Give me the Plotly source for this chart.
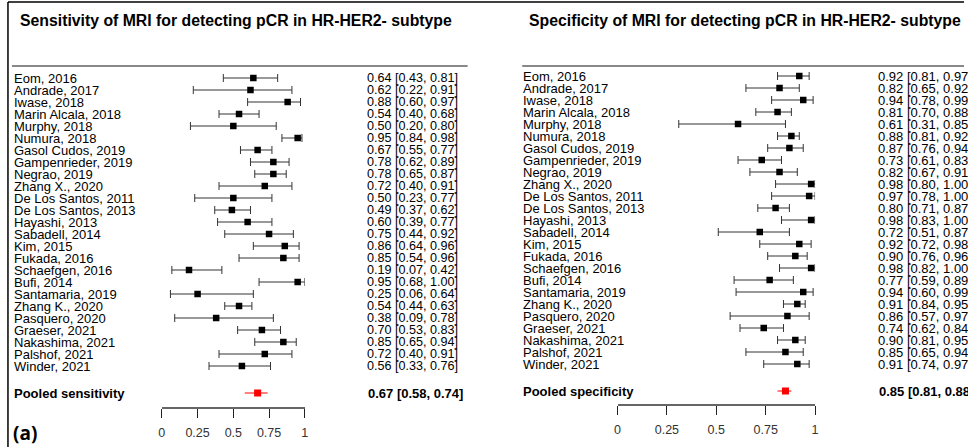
import plotly.graph_objects as go

studies = ["Eom, 2016", "Andrade, 2017", "Iwase, 2018", "Marin Alcala, 2018", "Murphy, 2018",
           "Numura, 2018", "Gasol Cudos, 2019", "Gampenrieder, 2019", "Negrao, 2019", "Zhang X., 2020",
           "De Los Santos, 2011", "De Los Santos, 2013", "Hayashi, 2013", "Sabadell, 2014", "Kim, 2015",
           "Fukada, 2016", "Schaefgen, 2016", "Bufi, 2014", "Santamaria, 2019", "Zhang K., 2020",
           "Pasquero, 2020", "Graeser, 2021", "Nakashima, 2021", "Palshof, 2021", "Winder, 2021"]

sens = [0.64, 0.62, 0.88, 0.54, 0.50, 0.95, 0.67, 0.78, 0.78, 0.72, 0.50, 0.49, 0.60, 0.75, 0.86,
        0.85, 0.19, 0.95, 0.25, 0.54, 0.38, 0.70, 0.85, 0.72, 0.56]
sens_lo = [0.43, 0.22, 0.60, 0.40, 0.20, 0.84, 0.55, 0.62, 0.65, 0.40, 0.23, 0.37, 0.39, 0.44, 0.64,
           0.54, 0.07, 0.68, 0.06, 0.44, 0.09, 0.53, 0.65, 0.40, 0.33]
sens_hi = [0.81, 0.91, 0.97, 0.68, 0.80, 0.98, 0.77, 0.89, 0.87, 0.91, 0.77, 0.62, 0.77, 0.92, 0.96,
           0.96, 0.42, 1.00, 0.64, 0.63, 0.78, 0.83, 0.94, 0.91, 0.76]

spec = [0.92, 0.82, 0.94, 0.81, 0.61, 0.88, 0.87, 0.73, 0.82, 0.98, 0.97, 0.80, 0.98, 0.72, 0.92,
        0.90, 0.98, 0.77, 0.94, 0.91, 0.86, 0.74, 0.90, 0.85, 0.91]
spec_lo = [0.81, 0.65, 0.78, 0.70, 0.31, 0.81, 0.76, 0.61, 0.67, 0.80, 0.78, 0.71, 0.83, 0.51, 0.72,
           0.76, 0.82, 0.59, 0.60, 0.84, 0.57, 0.62, 0.81, 0.65, 0.74]
spec_hi = [0.97, 0.92, 0.99, 0.88, 0.85, 0.92, 0.94, 0.83, 0.91, 1.00, 1.00, 0.87, 1.00, 0.87, 0.98,
           0.96, 1.00, 0.89, 0.99, 0.95, 0.97, 0.84, 0.95, 0.94, 0.97]

pooled_sens = [0.67, 0.58, 0.74]
pooled_spec = [0.85, 0.81, 0.88]

tick_vals = [0, 0.25, 0.5, 0.75, 1]
tick_text = ["0", "0.25", "0.5", "0.75", "1"]

W, H = 968, 447
POOLED_ROW = 26.25
FONT = "Liberation Sans, Arial, sans-serif"
PAD = 4  # annotation inner padding compensation

fig = go.Figure()

def fmt(v, l, u):
    return f"{v:.2f} [{l:.2f}, {u:.2f}]"

rows = list(range(len(studies)))

panels = [
    dict(x="x", y="y", est=sens, lo=sens_lo, hi=sens_hi, pooled=pooled_sens,
         label_x=13, val_x=369, val_size=12.6, pooled_label="Pooled sensitivity"),
    dict(x="x2", y="y2", est=spec, lo=spec_lo, hi=spec_hi, pooled=pooled_spec,
         label_x=526, val_x=883, val_size=13, pooled_label="Pooled specificity"),
]

annotations = []
for p in panels:
    est, lo, hi = p["est"], p["lo"], p["hi"]
    fig.add_trace(go.Scatter(
        x=est, y=rows, xaxis=p["x"], yaxis=p["y"], mode="markers",
        marker=dict(symbol="square", size=6.5, color="black"),
        error_x=dict(type="data", symmetric=False,
                     array=[h - e for h, e in zip(hi, est)],
                     arrayminus=[e - l for e, l in zip(est, lo)],
                     color="#333333", thickness=1, width=4),
        cliponaxis=False, showlegend=False, hoverinfo="skip"))
    pe, pl, ph = p["pooled"]
    fig.add_trace(go.Scatter(
        x=[pe], y=[POOLED_ROW], xaxis=p["x"], yaxis=p["y"], mode="markers",
        marker=dict(symbol="square", size=7, color="#ff0000"),
        error_x=dict(type="data", symmetric=False, array=[ph - pe], arrayminus=[pe - pl],
                     color="#ff0000", thickness=1, width=0),
        cliponaxis=False, showlegend=False, hoverinfo="skip"))
    for i, name in enumerate(studies):
        annotations.append(dict(xref="paper", yref=p["y"], x=(p["label_x"] - PAD) / W, y=i,
                                text=name, showarrow=False, xanchor="left", yanchor="middle",
                                font=dict(family=FONT, size=13, color="black")))
        annotations.append(dict(xref="paper", yref=p["y"], x=(p["val_x"] - PAD) / W, y=i,
                                text=fmt(est[i], lo[i], hi[i]), showarrow=False,
                                xanchor="left", yanchor="middle",
                                font=dict(family=FONT, size=p["val_size"], color="black")))
    annotations.append(dict(xref="paper", yref=p["y"], x=(p["label_x"] - PAD) / W, y=POOLED_ROW,
                            text="<b>" + p["pooled_label"] + "</b>", showarrow=False,
                            xanchor="left", yanchor="middle",
                            font=dict(family=FONT, size=13, color="black")))
    annotations.append(dict(xref="paper", yref=p["y"], x=(p["val_x"] + 1 - PAD) / W, y=POOLED_ROW,
                            text="<b>" + fmt(pe, pl, ph) + "</b>", showarrow=False,
                            xanchor="left", yanchor="middle",
                            font=dict(family=FONT, size=13, color="black")))

# titles
annotations.append(dict(xref="paper", yref="paper", x=(19 - PAD) / W, y=1 - 20 / H,
                        text="<b>Sensitivity of MRI for detecting pCR in HR-HER2- subtype</b>",
                        showarrow=False, xanchor="left", yanchor="middle",
                        font=dict(family=FONT, size=15.8, color="black")))
annotations.append(dict(xref="paper", yref="paper", x=(532 - PAD) / W, y=1 - 20 / H,
                        text="<b>Specificity of MRI for detecting pCR in HR-HER2- subtype</b>",
                        showarrow=False, xanchor="left", yanchor="middle",
                        font=dict(family=FONT, size=15.8, color="black")))
annotations.append(dict(xref="paper", yref="paper", x=(12 - PAD) / W, y=1 - 433 / H,
                        text="<b>(a)</b>", showarrow=False, xanchor="left", yanchor="middle",
                        font=dict(family="Open Sans, sans-serif", size=19, color="black")))

shapes = [
    dict(type="line", xref="paper", yref="paper", x0=5 / W, x1=1, y0=1 - 2 / H, y1=1 - 2 / H,
         line=dict(color="black", width=1.5)),
    dict(type="line", xref="paper", yref="paper", x0=5 / W, x1=5 / W, y0=0, y1=1 - 2 / H,
         line=dict(color="black", width=1.5)),
    dict(type="line", xref="paper", yref="paper", x0=9 / W, x1=468 / W, y0=1 - 66 / H, y1=1 - 66 / H,
         line=dict(color="#888888", width=2)),
    dict(type="line", xref="paper", yref="paper", x0=523 / W, x1=1, y0=1 - 66 / H, y1=1 - 66 / H,
         line=dict(color="#888888", width=2)),
]

axis_common = dict(range=[0, 1], tickvals=tick_vals, ticktext=tick_text, showgrid=False,
                   zeroline=False, showline=True, linecolor="#666666", linewidth=1.5,
                   ticks="outside", ticklen=9, tickcolor="#222222", tickwidth=1,
                   tickfont=dict(family=FONT, size=12.5, color="#333333"),
                   side="bottom", anchor="free", ticklabelstandoff=4, fixedrange=True)

fig.update_layout(
    width=W, height=H, margin=dict(l=0, r=0, t=0, b=0),
    paper_bgcolor="white", plot_bgcolor="rgba(0,0,0,0)",
    xaxis=dict(domain=[160 / W, 304 / W], position=1 - 408 / H, **axis_common),
    xaxis2=dict(domain=[619 / W, 818 / W], position=1 - 405 / H, **axis_common),
    yaxis=dict(domain=[0, 1], range=[(H - 78) / 12, -78 / 12], visible=False, anchor="x",
               fixedrange=True),
    yaxis2=dict(domain=[0, 1], range=[(H - 76) / 12, -76 / 12], visible=False, anchor="x2",
                fixedrange=True),
    annotations=annotations, shapes=shapes, showlegend=False,
)

fig.write_html("out.html", config={"displayModeBar": False},
               post_script="document.body.style.margin='0';document.body.style.overflow='hidden';")
